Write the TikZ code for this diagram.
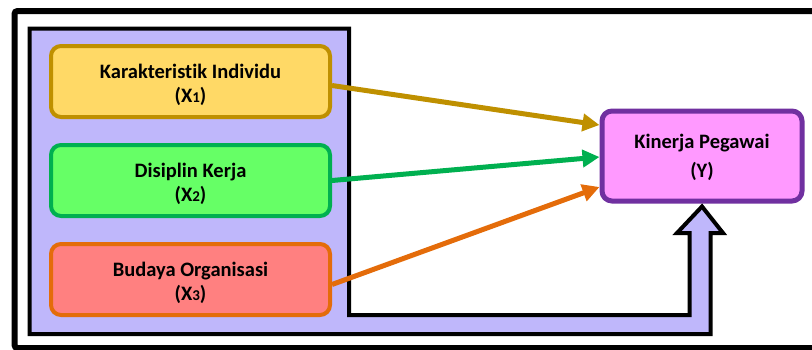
\documentclass[tikz,border=0pt]{standalone}
\usepackage{fontspec}
\setmainfont{Carlito}[Ligatures=NoCommon]
\usetikzlibrary{positioning, arrows.meta}

\definecolor{lav}{RGB}{191,183,251}
\definecolor{goldfill}{RGB}{255,217,102}
\definecolor{goldline}{RGB}{191,144,0}
\definecolor{greenfill}{RGB}{102,255,102}
\definecolor{greenline}{RGB}{0,176,80}
\definecolor{redfill}{RGB}{255,128,128}
\definecolor{orangeline}{RGB}{228,108,10}
\definecolor{pinkfill}{RGB}{255,153,255}
\definecolor{purpleline}{RGB}{112,48,160}

\newcommand\idx[1]{{\fontsize{15}{15}\selectfont #1}}

\tikzset{
  var/.style={draw, line width=4pt, rounded corners=10pt, minimum width=279pt,
    minimum height=71pt, align=center, text height=46pt, text depth=5pt,
    font=\bfseries\fontsize{20.5}{24}\selectfont},
  link/.style={line width=5pt, -{Triangle[length=17pt,width=17pt]}}
}

\begin{document}
\begin{tikzpicture}[x=1pt, y=-1pt, node distance=24pt]
    \path[use as bounding box, clip] (0,0) rectangle (812,349);
    % outer frame
    \draw[line width=6pt, rounded corners=3pt] (830,11) -- (14.5,11) -- (14.5,348) -- (830,348);

    \node[var, fill=pinkfill, draw=purpleline, line width=5pt, minimum width=200pt,
      minimum height=90pt, text height=48pt, font=\bfseries\fontsize{20.5}{29}\selectfont] (y) at (702,156) {Kinerja Pegawai\\(Y)};

    % panel and block arrow
    \draw[line width=4pt, fill=lav] (29.5,28.5) -- (349,28.5) -- (349,315) -- (689.5,315)
      -- (689.5,233) -- (677,233) -- ([yshift=-3pt]y.south) -- (723,233) -- (710.5,233)
      -- (710.5,334) -- (29.5,334) -- cycle;

    \node[var, fill=goldfill, draw=goldline] (x1) at (190.5,81.5) {Karakteristik Individu\\(X\idx{1})};
    \node[var, fill=greenfill, draw=greenline, below=of x1] (x2) {Disiplin Kerja\\(X\idx{2})};
    \node[var, fill=redfill, draw=orangeline, below=of x2] (x3) {Budaya Organisasi\\(X\idx{3})};

    \draw[link, goldline] ([yshift=-4pt]x1.east) -- ([yshift=31pt]y.west);
    \draw[link, greenline] (x2.east) -- ([yshift=-1pt]y.west);
    \draw[link, orangeline] ([yshift=-5pt]x3.east) -- ([yshift=-31pt]y.west);
  \end{tikzpicture}
\end{document}
